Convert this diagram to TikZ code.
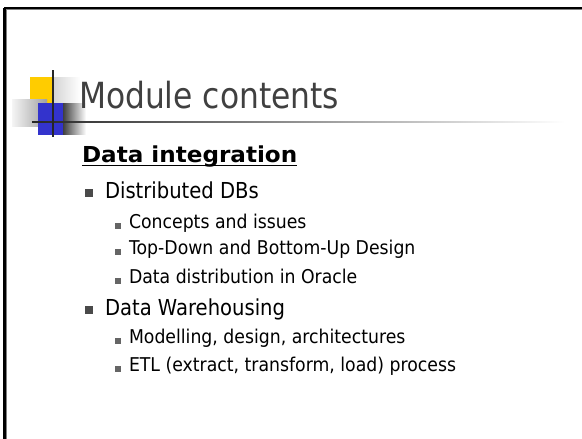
\documentclass[tikz,border=0pt]{standalone}
\usepackage{fontspec}
\setmainfont{DejaVu Sans}[FakeStretch=0.89]
\newfontfamily\headbold{DejaVu Sans}[FakeStretch=1.05]
\newfontfamily\titleface{DejaVu Sans}[FakeStretch=0.87]
\newfontfamily\subface{DejaVu Sans}[FakeStretch=0.91]
\definecolor{titlegray}{HTML}{404040}
\definecolor{logoyellow}{HTML}{FFCC00}
\definecolor{logoblue}{HTML}{3333CC}
\definecolor{bulletgray}{HTML}{4A4A4A}
\begin{document}
\begin{tikzpicture}[x=1pt,y=-1pt,
  txt/.style={anchor=base west,inner sep=0pt,outer sep=0pt},
  lvlone/.style={txt,font=\fontsize{22}{26}\selectfont},
  lvltwo/.style={txt,font=\subface\fontsize{19}{23}\selectfont},
  bulletone/.style={fill=bulletgray,draw=none},
  bullettwo/.style={fill=bulletgray!85,draw=none}]
\useasboundingbox (0,0) rectangle (582,439);
% slide frame (right and bottom edges run off the page)
\begin{scope}
  \clip (0,0) rectangle (582,439);
  \draw[black,line width=2.4pt] (4.4,8) -- (600,8);
  \draw[black,line width=2.4pt] (4.4,8) -- (4.4,460);
  \draw[gray,line width=0.8pt] (6,9.8) -- (600,9.8);
  \draw[gray,line width=0.8pt] (6,9.8) -- (6,460);
\end{scope}
% logo: soft shadows
\shade[left color=gray!35,right color=white] (52,77) rectangle (80,103);
\shade[left color=black!75,right color=white] (63,103) rectangle (86,134);
% logo: coloured squares
\fill[logoyellow] (30,77) rectangle (53,103);
\shade[shading angle=60,left color=gray!8,right color=gray!75] (12,99) rectangle (47,126);
\fill[logoblue] (38,103) rectangle (63,135);
% rule under the title, fading out to the right
\shade[left color=black!85,right color=white] (32,121.2) rectangle (565,122.8);
\draw[black!85,line width=1.6pt] (53,70) -- (53,137);
% title
\node[txt,font=\titleface\fontsize{36}{40}\selectfont,text=titlegray] (title) at (79,108) {Module contents};
% section heading
\node[txt,font=\headbold\bfseries\fontsize{22}{26}\selectfont] (head) at (82,162) {Data integration};
\draw[line width=1.5pt] ([yshift=-3.6pt]head.base west) -- ([yshift=-3.6pt]head.base east);
% first-level items
\fill[bulletone] (85,189) rectangle (93,197);
\node[lvlone] (ddb) at (105,198) {Distributed DBs};
\fill[bullettwo] (115,223) rectangle (121,228.5);
\node[lvltwo] (conc) at (129,228) {Concepts and issues};
\fill[bullettwo] (115,249) rectangle (121,254.5);
\node[lvltwo] (tdbu) at (129,254) {Top-Down and Bottom-Up Design};
\fill[bullettwo] (115,278) rectangle (121,283.5);
\node[lvltwo] (dist) at (129,283) {Data distribution in Oracle};
\fill[bulletone] (85,306) rectangle (93,314);
\node[lvlone] (dw) at (105,315) {Data Warehousing};
\fill[bullettwo] (115,338) rectangle (121,343.5);
\node[lvltwo] (model) at (129,343) {Modelling, design, architectures};
\fill[bullettwo] (115,366) rectangle (121,371.5);
\node[lvltwo] (etl) at (129,371) {ETL (extract, transform, load) process};
\end{tikzpicture}
\end{document}
